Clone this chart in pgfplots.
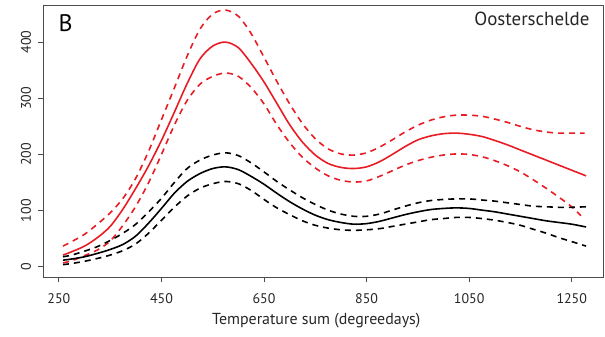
\documentclass[border=0pt]{standalone}
\usepackage{pgfplots}
\pgfplotsset{compat=1.18}
\usepackage{fontspec}
\setmainfont{PT Sans}
\definecolor{rred}{RGB}{232,28,36}
\begin{document}
\begin{tikzpicture}
\path[use as bounding box] (-43bp,-60bp) rectangle (562bp,277bp);
\begin{axis}[
  scale only axis, width=560bp, height=272bp,
  xmin=219, xmax=1311, ymin=-18, ymax=466,
  axis line style={gray!60!black, line width=0.9pt},
  xtick={250,450,650,850,1050,1250},
  ytick={0,100,200,300,400},
  tick align=outside, major tick length=5bp,
  tick style={gray!60!black, line width=0.8pt},
  xtick pos=bottom, ytick pos=left,
  /pgf/number format/assume math mode=true,
  /pgf/number format/1000 sep={},
  ticklabel style={font=\fontsize{14}{16}\selectfont, text=black!85},
  yticklabel style={rotate=90, anchor=base},
  yticklabel shift=7bp,
  xticklabel style={anchor=base},
  xticklabel shift=21bp,
  xlabel={Temperature sum (degreedays)},
  xlabel style={font=\fontsize{16}{18}\selectfont, text=black!85, at={(axis description cs:0.488,0)}, anchor=base, yshift=-47bp},
  every axis plot/.append style={line width=1.6pt, smooth, line join=round},
  clip=false,
]
% red mean
\addplot[rred] coordinates {(258,21)(275,27)(300,37)(325,52)(350,72)(375,103)(400,140)(425,180)(450,225)(475,275)(500,326)(525,370)(550,393)(575,400)(600,390)(625,362)(650,329)(675,291)(700,253)(725,222)(750,199)(775,184)(800,177)(825,175)(850,178)(875,187)(900,200)(925,214)(950,226)(975,233)(1000,237)(1025,238)(1050,236)(1075,232)(1100,225)(1125,217)(1150,208)(1175,199)(1200,190)(1225,181)(1250,172)(1278,162)};
% red upper
\addplot[rred, dash pattern=on 6bp off 5bp] coordinates {(258,37)(275,45)(300,58)(325,76)(350,96)(375,122)(400,158)(425,206)(450,262)(475,318)(500,375)(525,423)(550,450)(575,457)(600,446)(625,415)(650,373)(675,330)(700,290)(725,255)(750,228)(775,210)(800,201)(825,199)(850,203)(875,213)(900,226)(925,240)(950,252)(975,261)(1000,267)(1025,270)(1050,270)(1075,268)(1100,263)(1125,257)(1150,250)(1175,244)(1200,240)(1225,238)(1250,238)(1275,238)};
% red lower
\addplot[rred, dash pattern=on 6bp off 5bp] coordinates {(258,7)(275,11)(300,20)(325,30)(350,46)(375,74)(400,108)(425,150)(450,200)(475,252)(500,296)(525,325)(550,339)(575,345)(600,339)(625,319)(650,290)(675,253)(700,221)(725,195)(750,176)(775,162)(800,154)(825,151)(850,153)(875,161)(900,171)(925,181)(950,189)(975,195)(1000,199)(1025,201)(1050,200)(1075,196)(1100,189)(1125,180)(1150,169)(1175,155)(1200,140)(1225,124)(1250,107)(1268,91)};
% black mean
\addplot[black] coordinates {(258,12)(275,14)(300,18)(325,24)(350,31)(375,40)(400,55)(425,78)(450,104)(475,131)(500,152)(525,166)(550,175)(575,178)(600,173)(625,161)(650,147)(675,131)(700,116)(725,103)(750,92)(775,84)(800,79)(825,76)(850,77)(875,81)(900,87)(925,93)(950,98)(975,102)(1000,104)(1025,105)(1050,104)(1075,101)(1100,98)(1125,94)(1150,90)(1175,86)(1200,82)(1225,79)(1250,76)(1278,71)};
% black upper
\addplot[black, dash pattern=on 6bp off 5bp] coordinates {(258,18)(275,21)(300,28)(325,36)(350,47)(375,60)(400,76)(425,98)(450,122)(475,150)(500,175)(525,190)(550,199)(575,203)(600,198)(625,185)(650,169)(675,152)(700,137)(725,123)(750,111)(775,101)(800,94)(825,90)(850,90)(875,94)(900,101)(925,108)(950,114)(975,118)(1000,120)(1025,121)(1050,121)(1075,119)(1100,117)(1125,114)(1150,111)(1175,108)(1200,107)(1225,106)(1250,106)(1278,107)};
% black lower
\addplot[black, dash pattern=on 6bp off 5bp] coordinates {(258,4)(275,6)(300,10)(325,15)(350,21)(375,29)(400,41)(425,60)(450,83)(475,106)(500,126)(525,140)(550,148)(575,152)(600,148)(625,136)(650,120)(675,105)(700,93)(725,82)(750,74)(775,69)(800,66)(825,65)(850,66)(875,68)(900,72)(925,76)(950,80)(975,84)(1000,86)(1025,88)(1050,88)(1075,86)(1100,83)(1125,79)(1150,74)(1175,67)(1200,60)(1225,52)(1250,45)(1278,37)};
\node[anchor=base west, font=\fontsize{24}{28}\selectfont, xshift=12bp, yshift=-27bp] at (rel axis cs:0,1) {B};
\node[anchor=base east, font=\fontsize{19}{22}\selectfont, text=black!85, xshift=-10bp, yshift=-21bp] at (rel axis cs:1,1) {Oosterschelde};
\end{axis}
\end{tikzpicture}
\end{document}
